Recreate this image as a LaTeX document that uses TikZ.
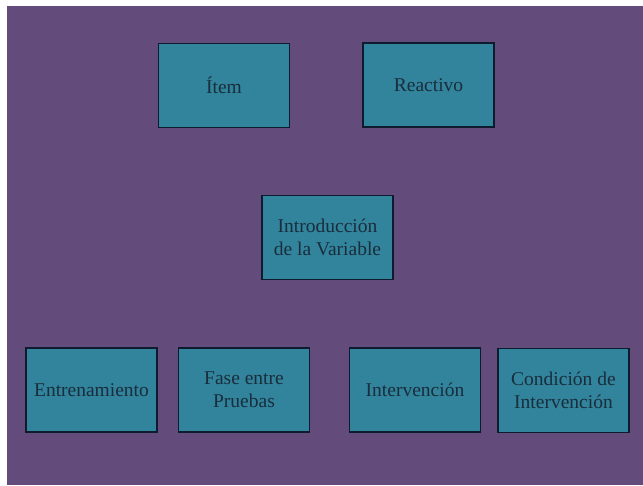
\documentclass[tikz,border=0pt]{standalone}
\usepackage{fontspec}
\setmainfont{Liberation Serif}
\definecolor{fondo}{HTML}{634B7B}
\definecolor{caja}{HTML}{31849B}
\definecolor{borde}{HTML}{0E1A2E}
\definecolor{letra}{HTML}{1A2D3D}
\tikzset{caja/.style={draw=borde,fill=caja,line width=1.8pt,minimum width=131pt,minimum height=84pt,
  align=center,text=letra,font=\fontsize{19.5}{23}\selectfont,inner sep=2pt}}

\begin{document}
\begin{tikzpicture}[x=1pt,y=1pt]
\useasboundingbox (0,0) rectangle (643,485);
\fill[white] (0,0) rectangle (643,485);
\fill[fondo] (7,0) rectangle (643,479);
% fila de arriba
\node[caja] (item) at (224,399.5) {Ítem};
\node[caja] (reactivo) at (428.5,400) {Reactivo};
% centro
\node[caja] (intro) at (327.5,247.5) {Introducción\\de la Variable};
% fila de abajo
\node[caja] (entrena) at (91.5,95) {Entrenamiento};
\node[caja] (fase) at (244,95) {Fase entre\\Pruebas};
\node[caja] (interv) at (415,95) {Intervención};
\node[caja] (condicion) at (563.5,94.5) {Condición de\\Intervención};
\end{tikzpicture}
\end{document}
